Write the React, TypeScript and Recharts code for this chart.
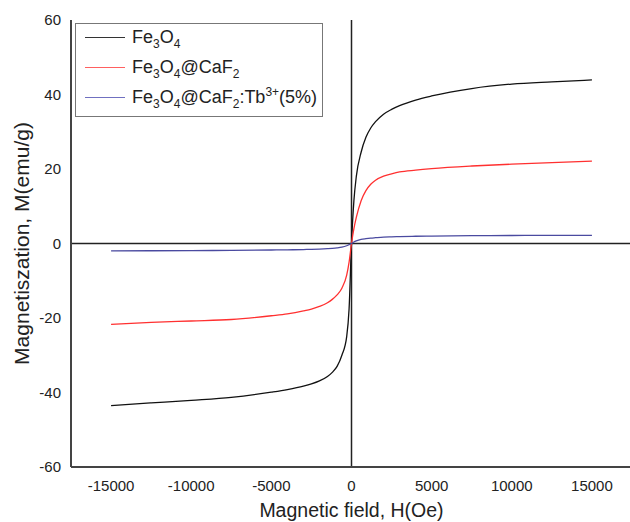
import React from "react";
import { Line, LineChart, ReferenceLine, XAxis, YAxis } from "recharts";

// applied field H (Oe)
const fields = [
  -15000, -12500, -10000, -7500, -5000, -4000, -3000, -2500, -2000, -1500, -1200, -900, -600, -300, -150, 0,
  150, 300, 600, 900, 1200, 1500, 2000, 2500, 3000, 4000, 5000, 7500, 10000, 12500, 15000,
];

// magnetization M (emu/g)
const fe3o4 = [
  -43.5, -42.8, -42.1, -41.3, -39.9, -39.2, -38.3, -37.7, -36.9, -35.7, -34.6, -33.0, -30.0, -25.0, -17.5, 0,
  11.5, 18.0, 24.5, 28.5, 31.0, 32.7, 34.7, 36.0, 37.0, 38.5, 39.6, 41.6, 42.8, 43.4, 43.9,
];
const fe3o4CaF2 = [
  -21.7, -21.2, -20.8, -20.4, -19.4, -18.9, -18.1, -17.6, -16.9, -15.9, -15.0, -13.8, -12.0, -8.5, -5.0, 0,
  4.0, 7.0, 11.5, 14.2, 15.9, 17.0, 18.1, 18.7, 19.2, 19.7, 20.1, 20.8, 21.3, 21.7, 22.1,
];
const fe3o4CaF2Tb = [
  -2.0, -1.95, -1.9, -1.85, -1.75, -1.7, -1.62, -1.57, -1.5, -1.4, -1.32, -1.2, -1.0, -0.6, -0.3, 0,
  0.4, 0.7, 1.1, 1.3, 1.45, 1.55, 1.7, 1.78, 1.85, 1.95, 2.0, 2.1, 2.15, 2.2, 2.2,
];

const xTicks = [-15000, -10000, -5000, 0, 5000, 10000, 15000];
const yTicks = [-60, -40, -20, 0, 20, 40, 60];

const data = fields.map((h, i) => ({
  h,
  fe3o4: fe3o4[i],
  caf2: fe3o4CaF2[i],
  tb: fe3o4CaF2Tb[i],
}));

const frame = { stroke: "#444", strokeWidth: 2 };
const tickStyle = { fontSize: 15, fill: "#222" };
const subStyle: React.CSSProperties = { fontSize: 12, position: "relative", top: 5 };
const supStyle: React.CSSProperties = { fontSize: 12, position: "relative", top: -7 };

const legendRows = [
  {
    color: "#333",
    label: (
      <>
        Fe<span style={subStyle}>3</span>O<span style={subStyle}>4</span>
      </>
    ),
  },
  {
    color: "#ff6060",
    label: (
      <>
        Fe<span style={subStyle}>3</span>O<span style={subStyle}>4</span>@CaF<span style={subStyle}>2</span>
      </>
    ),
  },
  {
    color: "#7070c0",
    label: (
      <>
        Fe<span style={subStyle}>3</span>O<span style={subStyle}>4</span>@CaF<span style={subStyle}>2</span>:Tb
        <span style={supStyle}>3+</span>(5%)
      </>
    ),
  },
];

export default function App() {
  return (
    <div
      style={{
        position: "absolute",
        left: 0,
        top: 0,
        width: 630,
        height: 522,
        overflow: "hidden",
        background: "#fff",
        fontFamily: "'Liberation Sans', Arial, sans-serif",
      }}
    >
      <LineChart width={640} height={522} data={data} margin={{ top: 20, right: 8, bottom: 0, left: 0 }}>
        <XAxis
          dataKey="h"
          type="number"
          domain={[-17500, 17500]}
          ticks={xTicks}
          height={55}
          tickLine={false}
          tickSize={0}
          tickMargin={13}
          axisLine={frame}
          tick={tickStyle}
          label={{ value: "Magnetic field, H(Oe)", position: "insideBottom", offset: 5, style: { fontSize: 19.5, fill: "#222" } }}
        />
        <XAxis
          xAxisId="top"
          orientation="top"
          type="number"
          domain={[-17500, 17500]}
          height={0}
          tick={false}
          tickLine={false}
          axisLine={frame}
        />
        <YAxis
          type="number"
          domain={[-60, 60]}
          ticks={yTicks}
          width={71}
          tickLine={false}
          tickSize={0}
          tickMargin={10}
          axisLine={frame}
          tick={tickStyle}
          label={{
            value: "Magnetiszation, M(emu/g)",
            angle: -90,
            position: "insideLeft",
            offset: 22,
            style: { fontSize: 21, fill: "#222", textAnchor: "middle" },
          }}
        />
        <ReferenceLine x={0} stroke="#222" strokeWidth={1.5} />
        <ReferenceLine y={0} stroke="#222" strokeWidth={1.5} />
        <Line type="monotone" dataKey="fe3o4" stroke="#111" strokeWidth={1.3} dot={false} isAnimationActive={false} />
        <Line type="monotone" dataKey="caf2" stroke="#ff3030" strokeWidth={1.3} dot={false} isAnimationActive={false} />
        <Line type="monotone" dataKey="tb" stroke="#4a4aa0" strokeWidth={1.3} dot={false} isAnimationActive={false} />
      </LineChart>

      <div
        style={{
          position: "absolute",
          left: 75,
          top: 23,
          width: 248,
          height: 94,
          boxSizing: "border-box",
          border: "1.5px solid #777",
          background: "#fff",
        }}
      >
        {legendRows.map((row, i) => (
          <div
            key={i}
            style={{ position: "absolute", left: 9, top: 1 + i * 30, height: 24, display: "flex", alignItems: "center" }}
          >
            <div style={{ width: 40, height: 1, background: row.color }} />
            <span style={{ marginLeft: 7, fontSize: 18, color: "#222", whiteSpace: "nowrap" }}>{row.label}</span>
          </div>
        ))}
      </div>
    </div>
  );
}
